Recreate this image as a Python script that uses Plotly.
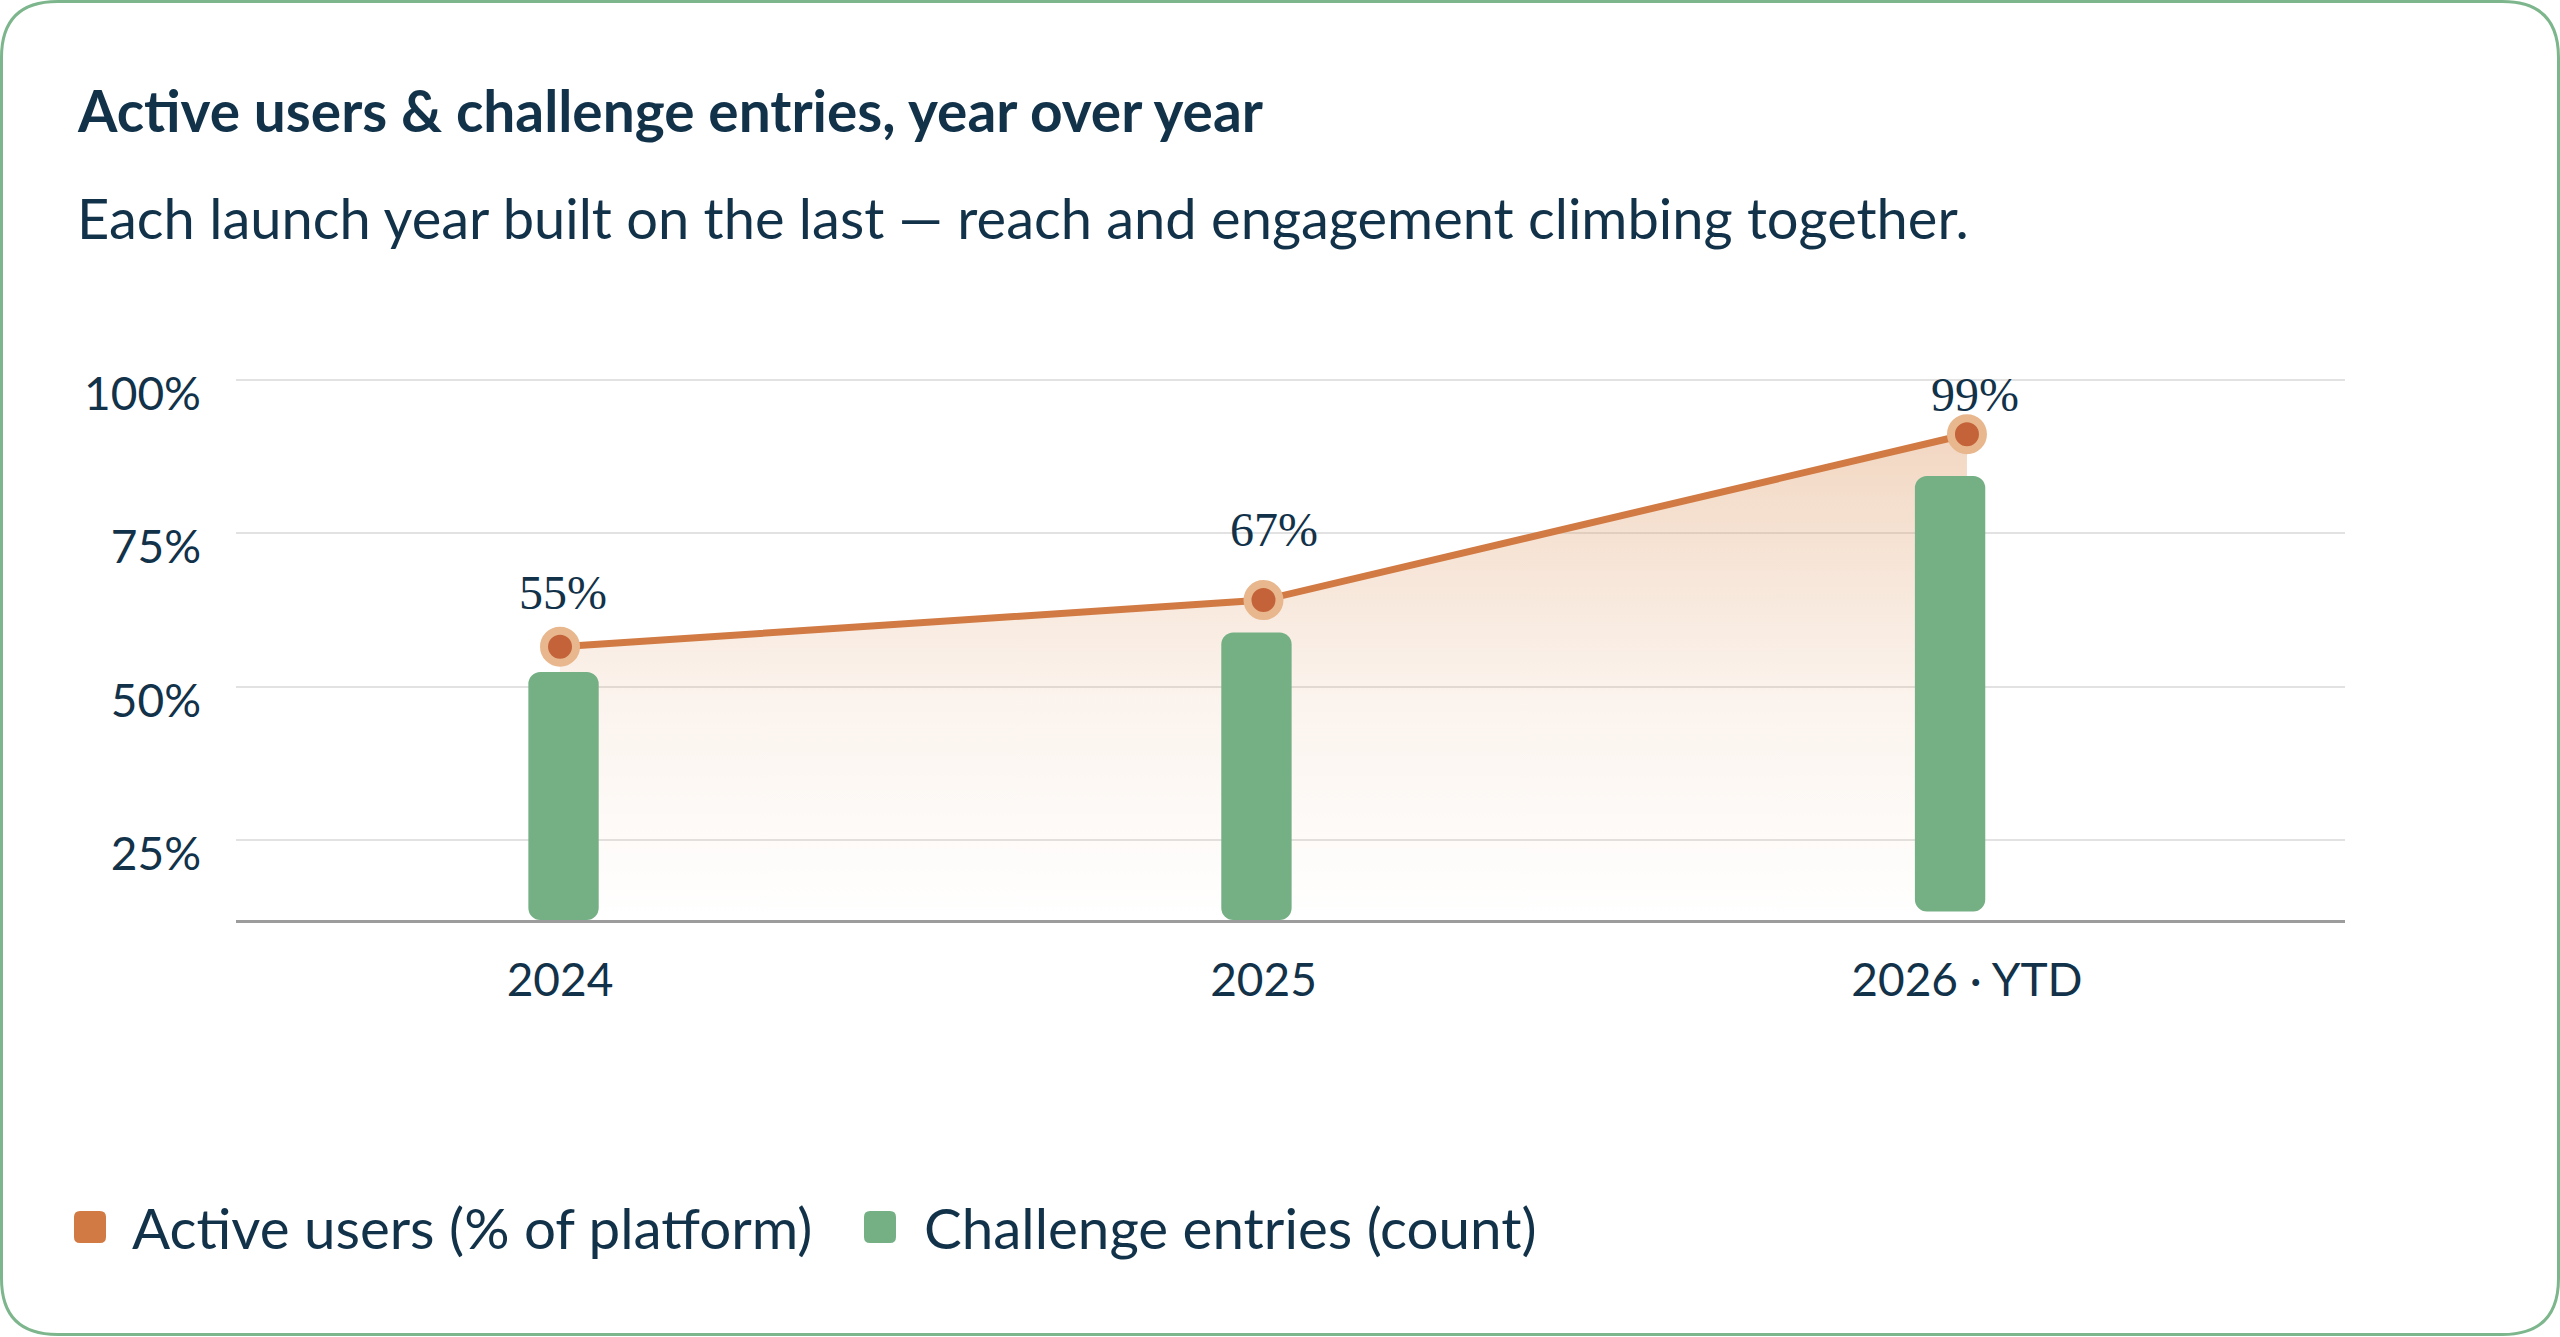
import plotly.graph_objects as go

# ---- data ----
years = ["2024", "2025", "2026 · YTD"]
active_users = [56.5, 64.1, 91.1]          # plotted height of the line (% of platform)
active_labels = ["55%", "67%", "99%"]
challenge_entries = [52.4, 58.8, 84.3]     # bar tops, same scale
y_ticks = [25, 50, 75, 100]
y_tick_labels = ["25%", "50%", "75%", "100%"]
series_names = ["Active users (% of platform)", "Challenge entries (count)"]

NAVY = "#12324a"
ORANGE = "#d27a43"
DOT = "#c4633a"
RING = "#e8b78d"
GREEN = "#75b085"
BORDER = "#7db68c"

# figure geometry (px)
FW, FH = 2560, 1337
L, R, T, B = 236, 215, 355, 417
PW, PH = FW - L - R, FH - T - B


def px_x(p):
    return (p - L) / PW


def px_y(p):
    return (FH - B - p) / PH


def rounded_rect(x0, y0, x1, y1, r):
    pts = [
        ("M", [(x0 + r, y0)]), ("L", [(x1 - r, y0)]), ("Q", [(x1, y0), (x1, y0 + r)]),
        ("L", [(x1, y1 - r)]), ("Q", [(x1, y1), (x1 - r, y1)]),
        ("L", [(x0 + r, y1)]), ("Q", [(x0, y1), (x0, y1 - r)]),
        ("L", [(x0, y0 + r)]), ("Q", [(x0, y0), (x0 + r, y0)]),
    ]
    out = ""
    for cmd, coords in pts:
        out += cmd + " ".join(f"{px_x(a):.5f},{px_y(b):.5f}" for a, b in coords) + " "
    return out + "Z"


fig = go.Figure()

# gradient area under the line (bottom layer)
fig.add_trace(go.Scatter(
    x=years, y=active_users, mode="lines", line=dict(width=0, color=ORANGE),
    fill="tozeroy",
    fillgradient=dict(
        type="vertical", start=12, stop=max(active_users),
        colorscale=[[0, "rgba(224,160,110,0)"], [0.45, "rgba(224,160,110,0.12)"],
                    [1, "rgba(224,160,110,0.42)"]],
    ),
    hoverinfo="skip", showlegend=False, yaxis="y",
))

# bars, drawn on an overlay axis so they sit above the fill
bar_base = [12, 12, 13.4]
fig.add_trace(go.Bar(
    x=years, y=[t - b for t, b in zip(challenge_entries, bar_base)], base=bar_base,
    width=0.1, offset=[-0.045, -0.06, -0.074],
    marker=dict(color=GREEN, cornerradius=12, line=dict(width=0)),
    name=series_names[1], showlegend=False, yaxis="y2",
))

# line + markers on top
fig.add_trace(go.Scatter(
    x=years, y=active_users, mode="lines+markers",
    line=dict(color=ORANGE, width=7),
    marker=dict(size=32, color=DOT, line=dict(color=RING, width=8)),
    cliponaxis=False, name=series_names[0], showlegend=False, yaxis="y3",
))

y_range = [12, 104]
x_range = [-0.4606, 2.5374]

annotations = []
# value labels above the markers (x given as category index)
label_xshift = [3, 11, 8]
label_yshift = [54, 71, 40]
for i, (v, lab) in enumerate(zip(active_users, active_labels)):
    annotations.append(dict(
        x=i, y=v, xref="x", yref="y", text=lab, showarrow=False,
        xshift=label_xshift[i], yshift=label_yshift[i], xanchor="center", yanchor="middle",
        font=dict(family="Liberation Serif, serif", size=48, color=NAVY),
    ))

# title and subtitle
annotations.append(dict(
    x=px_x(75), y=px_y(110), xref="paper", yref="paper", xanchor="left", yanchor="middle",
    text="<b>Active users &amp; challenge entries, year over year</b>", showarrow=False,
    font=dict(family="Lato, sans-serif", size=56.8, color=NAVY),
))
annotations.append(dict(
    x=px_x(75), y=px_y(218), xref="paper", yref="paper", xanchor="left", yanchor="middle",
    text="Each launch year built on the last — reach and engagement climbing together.",
    showarrow=False, font=dict(family="Lato, sans-serif", size=56, color=NAVY),
))

# custom legend
shapes = []
legend_items = [(90, 130, ORANGE, series_names[0]), (880, 922, GREEN, series_names[1])]
for cx, tx, col, name in legend_items:
    shapes.append(dict(
        type="path", xref="paper", yref="paper",
        path=rounded_rect(cx - 16, 1211, cx + 16, 1243, 6),
        fillcolor=col, line=dict(width=0), layer="above",
    ))
    annotations.append(dict(
        x=px_x(tx), y=px_y(1227), xref="paper", yref="paper", xanchor="left",
        yanchor="middle", text=name, showarrow=False,
        font=dict(family="Lato, sans-serif", size=56.5, color=NAVY),
    ))

# card border
shapes.append(dict(
    type="path", xref="paper", yref="paper",
    path=rounded_rect(1.5, 1.5, 2558.5, 1334.5, 56),
    line=dict(color=BORDER, width=3), fillcolor="rgba(0,0,0,0)", layer="below",
))

fig.update_layout(
    width=FW, height=FH,
    margin=dict(l=L, r=R, t=T, b=B),
    paper_bgcolor="white", plot_bgcolor="rgba(0,0,0,0)",
    showlegend=False,
    xaxis=dict(
        type="category", range=x_range, showgrid=False, zeroline=False,
        showline=True, linecolor="#9c9c9c", linewidth=3, ticks="",
        tickfont=dict(family="Lato, sans-serif", size=46, color=NAVY),
        ticklabelstandoff=18,
    ),
    yaxis=dict(
        range=y_range, tickvals=y_ticks, ticktext=y_tick_labels,
        showgrid=True, gridcolor="#e2e2e2", gridwidth=2, zeroline=False,
        showline=False, ticks="",
        tickfont=dict(family="Lato, sans-serif", size=46, color=NAVY),
        ticklabelstandoff=34, ticklabelshift=14,
    ),
    yaxis2=dict(range=y_range, overlaying="y", visible=False, showgrid=False),
    yaxis3=dict(range=y_range, overlaying="y", visible=False, showgrid=False),
    annotations=annotations,
    shapes=shapes,
)

fig.write_html(
    "out.html",
    config={"displayModeBar": False},
    post_script="document.body.style.margin='0';document.body.style.overflow='hidden';",
)
